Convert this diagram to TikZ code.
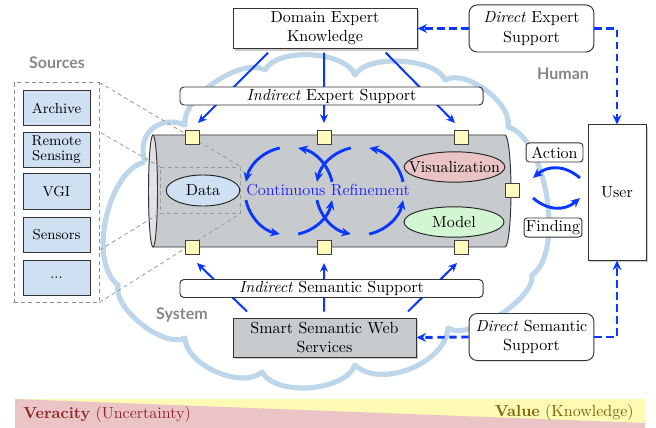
\documentclass[tikz,border=0pt]{standalone}
\usepackage{fontspec}
\newfontfamily\lato{Lato}
\usetikzlibrary{shapes.symbols,shapes.geometric,arrows.meta,shadows,calc}
\definecolor{arrblue}{RGB}{10,55,255}
\definecolor{txtblue}{RGB}{35,35,255}
\definecolor{cloudblue}{RGB}{190,214,234}
\definecolor{srcblue}{RGB}{207,224,243}
\definecolor{cylbody}{RGB}{200,203,206}
\definecolor{cylend}{RGB}{225,226,231}
\definecolor{sqyellow}{RGB}{255,251,190}
\definecolor{vispink}{RGB}{234,196,196}
\definecolor{modgreen}{RGB}{210,246,210}
\definecolor{banpink}{RGB}{235,197,197}
\definecolor{banyellow}{RGB}{253,250,180}
\definecolor{verred}{RGB}{140,40,40}
\definecolor{valolive}{RGB}{120,100,10}
\definecolor{lblgray}{RGB}{135,135,135}
\begin{document}
\begin{tikzpicture}[x=0.625pt,y=-0.625pt,
  box/.style={draw=black!80, fill=white, align=center, inner sep=1pt, line width=0.6pt},
  shadowbox/.style={box, drop shadow={shadow xshift=1.3pt, shadow yshift=-1.3pt, opacity=0.4}},
  rbox/.style={box, rounded corners=5pt},
  thinbox/.style={box, rounded corners=2pt, inner sep=0.8pt},
  srcbox/.style={draw=black!80, fill=srcblue, minimum width=41.9pt, minimum height=21.9pt, align=center, inner sep=0.5pt, font=\small, line width=0.6pt},
  sqbox/.style={draw=black!75, fill=sqyellow, minimum size=8.75pt, inner sep=0pt, line width=0.5pt},
  ell/.style={ellipse, draw=black!85, inner sep=0pt, line width=0.6pt},
  barr/.style={arrblue, line width=1.25pt, -{Stealth[length=5.5pt,width=5pt]}},
  carr/.style={arrblue, line width=1.8pt, -{Stealth[length=6pt,width=5.5pt]}},
  darr/.style={arrblue, line width=1.8pt, dash pattern=on 4.5pt off 3pt, -{Stealth[length=6pt,width=5.5pt]}},
  zoomline/.style={black!40, dash pattern=on 2.5pt off 2pt, line width=0.5pt},
  grouplbl/.style={font=\lato\bfseries, text=lblgray, inner sep=0pt},
  cloudline/.style={draw=cloudblue, line width=3.2pt, line join=round},
  puff/.style={bend left=65, looseness=#1},
]
\useasboundingbox (0,0) rectangle (656,428);

% cloud (drawn in a y-up scope: coordinates are (x, 428-y))
\begin{scope}[y=0.625pt, shift={(0pt,-267.5pt)}]
\draw[cloudline] (145,266) to[puff=1.35] (185,303)
  to[puff=0.71] (265,358) to[puff=0.74] (355,353) to[puff=0.68] (445,348)
  to[puff=0.78] (508,301) to[puff=0.68] (532,153) to[puff=0.63] (448,100)
  to[puff=0.9] (355,63) to[puff=0.78] (262,56) to[puff=0.82] (185,90)
  to[puff=0.71] (118,143) to[puff=0.78] (145,266);
\end{scope}

% banner
\fill[banyellow] (15,399) rectangle (645,428);
\fill[banpink] (15,399) -- (645,423) -- (645,428) -- (15,428) -- cycle;
\node[anchor=west, text=verred, inner sep=0pt] (ver) at (23,414) {\textbf{Veracity} (Uncertainty)};
\node[anchor=east, text=valolive, inner sep=0pt] (val) at (634,412) {\textbf{Value} (Knowledge)};

% cylinder
\fill[cylbody] (153,135) -- (505,135) arc[start angle=-90,end angle=90,x radius=6,y radius=56] -- (153,247) -- cycle;
\draw[black!80, line width=0.6pt] (153,135) -- (505,135) arc[start angle=-90,end angle=90,x radius=6,y radius=56] -- (153,247);
\draw[black!80, fill=cylend, line width=0.6pt] (153,191) ellipse [x radius=4.5, y radius=56];

% data zoom frame
\node[draw=black!40, dash pattern=on 2.5pt off 2pt, line width=0.6pt, minimum width=50pt, minimum height=28.75pt, inner sep=0pt] (dz) at (200,190) {};

% sources frame
\node[draw=black!45, dash pattern=on 2.5pt off 2pt, line width=0.6pt, minimum width=53.1pt, minimum height=136.9pt, inner sep=0pt] (srcf) at (56.5,192.5) {};
\draw[zoomline] (srcf.north west) -- (dz.north west);
\draw[zoomline] (srcf.north east) -- (dz.north east);
\draw[zoomline] (srcf.south west) -- (dz.south west);
\draw[zoomline] (srcf.south east) -- (dz.south east);
\node[draw=black!45, dash pattern=on 2.5pt off 2pt, fill=white, line width=0.6pt, minimum width=53.1pt, minimum height=136.9pt, inner sep=0pt] (src) at (56.5,192.5) {};
\node[srcbox] (arch) at (56.5,108) {Archive};
\node[srcbox] (rs) at (56.5,150) {Remote\\[-1.6pt]Sensing};
\node[srcbox] (vgi) at (56.5,191.5) {VGI};
\node[srcbox] (sens) at (56.5,234.5) {Sensors};
\node[srcbox] (etc) at (56.5,277.5) {...};

% squares
\node[sqbox] (st1) at (192,137) {};
\node[sqbox] (st2) at (324,137) {};
\node[sqbox] (st3) at (461,137) {};
\node[sqbox] (sb1) at (192,247) {};
\node[sqbox] (sb2) at (324,247) {};
\node[sqbox] (sb3) at (461,247) {};
\node[sqbox] (sr) at (512,190) {};

% ellipses
\node[ell, fill=srcblue, minimum width=46pt, minimum height=19.4pt] (data) at (203,190.5) {\makebox[0pt]{Data}};
\node[ell, fill=vispink, minimum width=63pt, minimum height=19pt] (vis) at (454.5,167) {\makebox[0pt]{Visualization}};
\node[ell, fill=modgreen, minimum width=62.5pt, minimum height=19pt] (model) at (454,222) {\makebox[0pt]{Model}};

% continuous refinement
\node[text=txtblue, inner sep=0pt] (cr) at (328,190) {Continuous Refinement};
\foreach \c in {289,360}{
  \foreach \a in {90,180,270,360}{
    \draw[carr] (\c,191) ++(-\a-12:44) arc[start angle=-\a-12, end angle=-\a-78, radius=44];
  }
}

% top and bottom boxes
\node[shadowbox, minimum width=115pt, minimum height=25.6pt] (dek) at (325,28.5) {Domain Expert\\Knowledge};
\node[shadowbox, fill=cylbody, minimum width=114.4pt, minimum height=24.4pt] (sm) at (324.5,337.5) {Smart Semantic Web\\Services};

\draw[barr] ([xshift=-35.6pt,yshift=-2pt]dek.south) -- ($(st1)+(6,-14)$);
\draw[barr] ([xshift=-0.6pt,yshift=-2pt]dek.south) -- ($(st2)+(0,-14)$);
\draw[barr] ([xshift=38pt,yshift=-2pt]dek.south) -- ($(st3)+(-6,-14)$);
\draw[barr] ([xshift=-48.4pt,yshift=3.75pt]sm.north) -- ($(sb1)+(5,16)$);
\draw[barr] ([xshift=-0.3pt,yshift=3.75pt]sm.north) -- ($(sb2)+(0,16)$);
\draw[barr] ([xshift=52.2pt,yshift=3.75pt]sm.north) -- ($(sb3)+(-4,16)$);

\node[box, rounded corners=2.5pt, minimum width=189.4pt, minimum height=11.25pt, inner sep=0pt] (ies) at (331.5,96) {\textit{Indirect} Expert Support};
\node[box, rounded corners=2.5pt, minimum width=189.4pt, minimum height=11.25pt, inner sep=0pt] (iss) at (331.5,288.5) {\textit{Indirect} Semantic Support};

% direct support
\node[rbox, minimum width=78pt, minimum height=29.4pt] (des) at (531.5,28.5) {\textit{Direct} Expert\\Support};
\node[rbox, minimum width=78pt, minimum height=29.4pt] (dss) at (531.5,337) {\textit{Direct} Semantic\\Support};

% user
\node[shadowbox, minimum width=36.25pt, minimum height=84.4pt] (user) at (617,192.5) {User};

\draw[darr] (des.west) -- (dek.east);
\draw[darr] (des.east) -- (des.east -| user.north) -- (user.north);
\draw[darr] (dss.west) -- (sm.east);
\draw[darr] (dss.east) -- (dss.east -| user.south) -- (user.south);

% action / finding
\node[thinbox, minimum width=35.6pt, minimum height=11.9pt] (act) at (554.5,152.5) {Action};
\node[thinbox, minimum width=36.2pt, minimum height=11.9pt] (fnd) at (553,227.5) {Finding};
\coordinate (a1) at (580,178);
\coordinate (a2) at (533,178);
\coordinate (f1) at (533,198);
\coordinate (f2) at (580,198);
\draw[carr] (a1) .. controls (565,165) and (548,165) .. (a2);
\draw[carr] (f1) .. controls (548,211) and (565,211) .. (f2);

% group labels
\node[grouplbl] (lsrc) at (57,63) {Sources};
\node[grouplbl] (lhum) at (563,74) {Human};
\node[grouplbl] (lsys) at (182,315) {System};
\end{tikzpicture}
\end{document}
